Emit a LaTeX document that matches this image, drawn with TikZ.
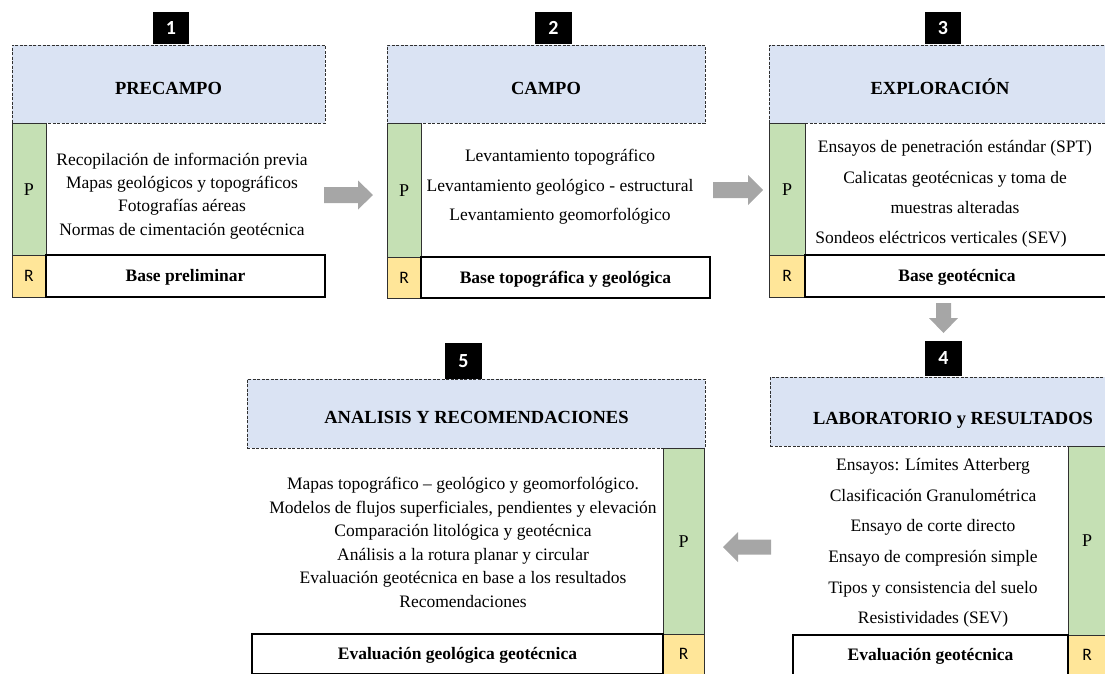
\documentclass[tikz,border=0pt]{standalone}
\usepackage{fontspec}
\setmainfont{Liberation Serif}
\newfontfamily\calib{Carlito}
\definecolor{hblue}{HTML}{DAE3F3}
\definecolor{pgreen}{HTML}{C5E0B4}
\definecolor{ryellow}{HTML}{FFE699}
\definecolor{agray}{HTML}{A6A6A6}
\definecolor{edge}{HTML}{303030}
\tikzset{
  x=1pt, y=-1pt,
  bx/.style={rectangle, inner sep=0pt, outer sep=0pt, anchor=north west},
  num/.style={bx, fill=black, text=white, text height=12.5pt, text depth=0pt, font=\calib\bfseries\fontsize{20}{22}\selectfont},
  hdr/.style={bx, fill=hblue, draw=edge, line width=0.8pt, dash pattern=on 3pt off 1.5pt},
  htxt/.style={inner sep=0pt, text height=12.5pt, text depth=0pt, font=\bfseries\fontsize{18.5}{20}\selectfont},
  pcell/.style={bx, fill=pgreen, draw=edge, line width=1pt, text height=12pt, text depth=0pt, font=\fontsize{18}{20}\selectfont},
  rcell/.style={bx, fill=ryellow, draw=edge, line width=1pt, text height=11pt, text depth=0pt, font=\calib\fontsize{17.5}{20}\selectfont},
  res/.style={bx, fill=white, draw=black, line width=1.3pt, text height=11.5pt, text depth=0pt, font=\bfseries\fontsize{17.5}{20}\selectfont},
  txt/.style={inner sep=0pt, align=center},
  arr/.style={fill=agray},
}
\begin{document}
\begin{tikzpicture}
\path[use as bounding box] (0,0) rectangle (1105,673);
\clip (0,0) rectangle (1105,673);
% ---------- box 1
\node[hdr, minimum width=313pt, minimum height=78pt] (h1) at (12,45) {};
\node[htxt] (h1t) at (168.5,88) {PRECAMPO};
\node[num, minimum width=36pt, minimum height=32pt] (n1) at (153,12) {1};
\node[pcell, minimum width=34pt, minimum height=132pt] (p1) at (12,123) {P};
\node[rcell, minimum width=34pt, minimum height=42pt] (r1) at (12,255) {R};
\node[res, minimum width=279pt, minimum height=42pt] (s1) at (46,255) {Base preliminar};
\node[txt, font=\fontsize{17.5}{23.3}\selectfont] (t1) at (182,196) {Recopilación de información previa\\Mapas geológicos y topográficos\\Fotografías aéreas\\Normas de cimentación geotécnica};
% ---------- box 2
\node[hdr, minimum width=318pt, minimum height=78pt] (h2) at (387,45) {};
\node[htxt] (h2t) at (546,88) {CAMPO};
\node[num, minimum width=37pt, minimum height=32pt] (n2) at (535,12) {2};
\node[pcell, minimum width=34pt, minimum height=134pt] (p2) at (387,123) {P};
\node[rcell, minimum width=34pt, minimum height=41pt] (r2) at (387,257) {R};
\node[res, minimum width=289pt, minimum height=41pt] (s2) at (421,257) {Base topográfica y geológica};
\node[txt, font=\fontsize{17.5}{29.5}\selectfont] (t2) at (560,187) {Levantamiento topográfico\\Levantamiento geológico - estructural\\Levantamiento geomorfológico};
% ---------- box 3
\node[hdr, minimum width=360pt, minimum height=78pt] (h3) at (769,45) {};
\node[htxt] (h3t) at (940,88) {EXPLORACIÓN};
\node[num, minimum width=36pt, minimum height=32pt] (n3) at (925,12) {3};
\node[pcell, minimum width=36pt, minimum height=132pt] (p3) at (769,123) {P};
\node[rcell, minimum width=36pt, minimum height=42pt] (r3) at (769,255) {R};
\node[res, minimum width=304pt, minimum height=42pt] (s3) at (805,255) {Base geotécnica};
\node[txt, font=\fontsize{17.5}{30.3}\selectfont] (t3) at (955,194) {Ensayos de penetración estándar (SPT)\\Calicatas geotécnicas y toma de\\muestras alteradas\\Sondeos eléctricos verticales (SEV)\hspace*{28pt}};
% ---------- box 4
\node[hdr, minimum width=366pt, minimum height=69pt] (h4) at (770,377) {};
\node[htxt] (h4t) at (953,418) {LABORATORIO y RESULTADOS};
\node[num, minimum width=37pt, minimum height=35pt] (n4) at (925,341) {4};
\node[pcell, minimum width=38pt, minimum height=189pt] (p4) at (1068,446) {P};
\node[rcell, minimum width=38pt, minimum height=40pt] (r4) at (1068,635) {R};
\node[res, minimum width=275pt, minimum height=40pt] (s4) at (793,635) {Evaluación geotécnica};
\node[txt, font=\fontsize{17.5}{30.6}\selectfont] (t4) at (933,543) {Ensayos: Límites Atterberg\\Clasificación Granulométrica\\Ensayo de corte directo\\Ensayo de compresión simple\\Tipos y consistencia del suelo\\Resistividades (SEV)};
% ---------- box 5
\node[hdr, minimum width=458pt, minimum height=69pt] (h5) at (247,379) {};
\node[htxt] (h5t) at (476.5,417) {ANALISIS Y RECOMENDACIONES};
\node[num, minimum width=37pt, minimum height=36pt] (n5) at (445,343) {5};
\node[pcell, minimum width=41pt, minimum height=186pt] (p5) at (663,448) {P};
\node[rcell, minimum width=41pt, minimum height=40pt] (r5) at (663,634) {R};
\node[res, minimum width=411pt, minimum height=40pt] (s5) at (252,634) {Evaluación geológica geotécnica};
\node[txt, font=\fontsize{17.5}{23.6}\selectfont] (t5) at (463,542.5) {Mapas topográfico -- geológico y geomorfológico.\\Modelos de flujos superficiales, pendientes y elevación\\Comparación litológica y geotécnica\\Análisis a la rotura planar y circular\\Evaluación geotécnica en base a los resultados\\Recomendaciones};
% ---------- block arrows
\coordinate (a12) at (324,195);
\fill[arr] (a12) ++(0,-8) -- ++(34,0) -- ++(0,-6.5) -- ++(15,14.5) -- ++(-15,14.5) -- ++(0,-6.5) -- ++(-34,0) -- cycle;
\coordinate (a23) at (713,190);
\fill[arr] (a23) ++(0,-8) -- ++(35,0) -- ++(0,-7) -- ++(15,15) -- ++(-15,15) -- ++(0,-7) -- ++(-35,0) -- cycle;
\coordinate (a34) at (943.5,303);
\fill[arr] (a34) ++(-7.5,0) -- ++(0,15) -- ++(-7,0) -- ++(14.5,15) -- ++(14.5,-15) -- ++(-7,0) -- ++(0,-15) -- cycle;
\coordinate (a45) at (771,547);
\fill[arr] (a45) ++(0,-7.5) -- ++(-33,0) -- ++(0,-7.5) -- ++(-15,15) -- ++(15,15) -- ++(0,-7.5) -- ++(33,0) -- cycle;
\end{tikzpicture}
\end{document}
